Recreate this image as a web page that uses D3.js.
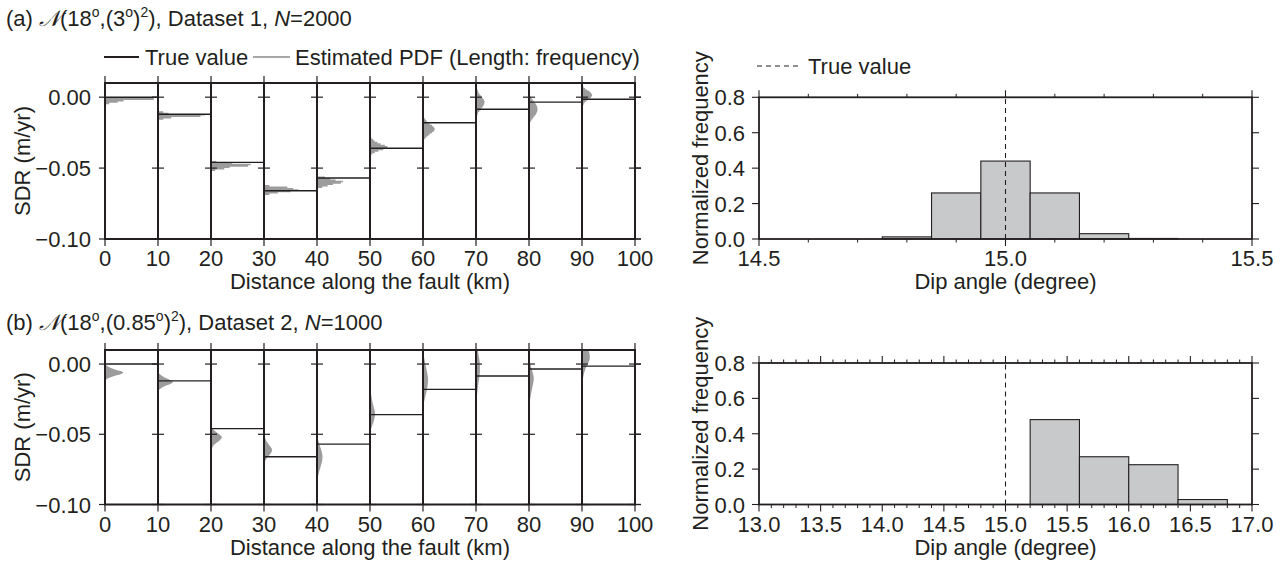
<!DOCTYPE html>
<html><head><meta charset="utf-8">
<script src="https://cdn.jsdelivr.net/npm/d3@7"></script>
<style>
body{margin:0;background:#fff}
text{font-family:"Liberation Sans",Arial,Helvetica,sans-serif;fill:#231f20}
</style>
</head><body>
<svg id="c" width="1285" height="568"></svg>
<script>
// ---------------- data ----------------
const segStarts = [0,10,20,30,40,50,60,70,80,90];
const segWidth = 10;
const trueSDR = [0, -0.012, -0.046, -0.066, -0.057, -0.036, -0.018, -0.0085, -0.0035, -0.0015];
const distTicks = [0,10,20,30,40,50,60,70,80,90,100];
const sdrTicks = [0, -0.05, -0.10];
const sdrBinA = 0.001;
// panel (a): estimated PDF bins per segment [bin centre SDR, length in km]
const pdfA = [
  [[-0.0005,9.2],[-0.0015,9.2],[-0.0025,3.5],[-0.0035,2.4],[-0.0045,0.8]],
  [[-0.0105,1.0],[-0.0115,2.0],[-0.0125,8.8],[-0.0135,8.0],[-0.0145,2.5],[-0.0155,1.0]],
  [[-0.0455,1.0],[-0.0465,4.0],[-0.0475,7.5],[-0.0485,7.0],[-0.0495,3.5],[-0.0505,2.5],[-0.0515,0.8]],
  [[-0.0625,1.0],[-0.0635,4.4],[-0.0645,5.5],[-0.0655,6.5],[-0.0665,5.0],[-0.0675,2.6],[-0.0685,1.0]],
  [[-0.0565,1.5],[-0.0575,2.5],[-0.0585,3.5],[-0.0595,4.9],[-0.0605,4.5],[-0.0615,3.0],[-0.0625,2.0],[-0.0635,1.0]],
  [[-0.029,0.3],[-0.030,0.6],[-0.031,0.9],[-0.032,1.4],[-0.033,2.0],[-0.034,2.8],[-0.035,3.3],[-0.036,3.2],[-0.037,2.5],[-0.038,1.6],[-0.039,0.9],[-0.040,0.4],[-0.041,0.2]],
  [[-0.013,0.1],[-0.014,0.2],[-0.015,0.3],[-0.016,0.5],[-0.017,0.7],[-0.018,1.0],[-0.019,1.3],[-0.020,1.7],[-0.021,2.0],[-0.022,2.2],[-0.023,2.2],[-0.024,2.0],[-0.025,1.7],[-0.026,1.3],[-0.027,1.0],[-0.028,0.7],[-0.029,0.4],[-0.030,0.2],[-0.031,0.1]],
  [[0.007,0.1],[0.006,0.2],[0.005,0.3],[0.004,0.4],[0.003,0.5],[0.002,0.7],[0.001,0.9],[0.000,1.1],[-0.001,1.3],[-0.002,1.5],[-0.003,1.6],[-0.004,1.6],[-0.005,1.5],[-0.006,1.4],[-0.007,1.2],[-0.008,1.0],[-0.009,0.8],[-0.010,0.6],[-0.011,0.4],[-0.012,0.3],[-0.013,0.2],[-0.014,0.15],[-0.015,0.1],[-0.016,0.05]],
  [[0.002,0.1],[0.001,0.2],[0.000,0.35],[-0.001,0.5],[-0.002,0.7],[-0.003,0.9],[-0.004,1.1],[-0.005,1.3],[-0.006,1.45],[-0.007,1.55],[-0.008,1.6],[-0.009,1.6],[-0.010,1.55],[-0.011,1.45],[-0.012,1.3],[-0.013,1.1],[-0.014,0.9],[-0.015,0.7],[-0.016,0.5],[-0.017,0.35],[-0.018,0.2],[-0.019,0.1],[-0.020,0.05]],
  [[0.008,0.1],[0.007,0.3],[0.006,0.6],[0.005,1.0],[0.004,1.4],[0.003,1.7],[0.002,1.9],[0.001,1.9],[0.000,1.7],[-0.001,1.4],[-0.002,1.0],[-0.003,0.7],[-0.004,0.45],[-0.005,0.3],[-0.006,0.2],[-0.007,0.1]]
];
// panel (b): estimated PDF outline per segment [SDR, length in km]
const pdfB = [
  [[0.000,0],[-0.001,0.3],[-0.002,0.6],[-0.003,1.2],[-0.004,2.0],[-0.005,3.0],[-0.006,3.6],[-0.007,3.2],[-0.008,2.2],[-0.009,1.3],[-0.010,0.6],[-0.011,0.2],[-0.012,0]],
  [[-0.006,0],[-0.007,0.3],[-0.008,0.6],[-0.009,1.0],[-0.010,1.5],[-0.011,2.1],[-0.012,2.7],[-0.013,2.9],[-0.014,2.5],[-0.015,1.8],[-0.016,1.1],[-0.017,0.6],[-0.018,0.3],[-0.019,0.1],[-0.020,0]],
  [[-0.044,0],[-0.046,0.3],[-0.048,0.8],[-0.050,1.6],[-0.052,2.2],[-0.054,1.8],[-0.056,1.0],[-0.058,0.4],[-0.060,0.15],[-0.062,0]],
  [[-0.050,0],[-0.052,0.15],[-0.054,0.35],[-0.056,0.65],[-0.058,1.05],[-0.060,1.5],[-0.062,1.55],[-0.064,1.2],[-0.066,0.7],[-0.068,0.35],[-0.070,0.1],[-0.072,0]],
  [[-0.051,0],[-0.054,0.2],[-0.058,0.5],[-0.062,0.9],[-0.066,1.1],[-0.070,0.95],[-0.074,0.6],[-0.078,0.3],[-0.082,0.1],[-0.085,0]],
  [[-0.016,0],[-0.020,0.15],[-0.024,0.3],[-0.028,0.5],[-0.032,0.8],[-0.035,1.0],[-0.038,0.9],[-0.041,0.7],[-0.044,0.4],[-0.047,0.15],[-0.049,0]],
  [[0.009,0],[0.005,0.2],[0.001,0.4],[-0.003,0.6],[-0.007,0.85],[-0.011,1.0],[-0.015,0.9],[-0.019,0.7],[-0.023,0.45],[-0.027,0.2],[-0.031,0]],
  [[0.011,0.3],[0.006,0.5],[0.002,0.7],[-0.002,0.75],[-0.006,0.75],[-0.010,0.6],[-0.014,0.45],[-0.018,0.3],[-0.022,0.2],[-0.026,0.1],[-0.030,0]],
  [[0.005,0],[0.001,0.2],[-0.003,0.45],[-0.007,0.8],[-0.010,0.95],[-0.013,0.85],[-0.017,0.6],[-0.021,0.4],[-0.025,0.2],[-0.029,0.08],[-0.031,0]],
  [[0.011,1.1],[0.008,1.4],[0.005,1.5],[0.003,1.45],[0.001,1.2],[-0.002,0.8],[-0.005,0.5],[-0.008,0.3],[-0.011,0.15],[-0.014,0]]
];
// dip-angle histograms
const dipEdgesA = [14.75,14.85,14.95,15.05,15.15,15.25,15.35];
const dipFreqA  = [0.012,0.26,0.44,0.26,0.03,0.003];
const dipEdgesB = [15.2,15.6,16.0,16.4,16.8];
const dipFreqB  = [0.48,0.27,0.225,0.028];
const dipTrue = 15.0;
const freqTicks = [0,0.2,0.4,0.6,0.8];
const dipTicksA = [14.5,15.0,15.5];
const dipMinorA = [14.6,14.7,14.8,14.9,15.1,15.2,15.3,15.4];
const dipTicksB = [13.0,13.5,14.0,14.5,15.0,15.5,16.0,16.5,17.0];
const dipMinorB = [13.1,13.2,13.3,13.4,13.6,13.7,13.8,13.9,14.1,14.2,14.3,14.4,14.6,14.7,14.8,14.9,15.1,15.2,15.3,15.4,15.6,15.7,15.8,15.9,16.1,16.2,16.3,16.4,16.6,16.7,16.8,16.9];

// ---------------- drawing ----------------
const ink = "#231f20";
const pdfGray = "#9c9c9c";
const barGray = "#c8c9ca";
const FS = 22;
const svg = d3.select("#c");

function rich(x, y, parts){
  const t = svg.append("text").attr("x",x).attr("y",y).attr("font-size",FS);
  let up = false;
  parts.forEach(p=>{
    const o = typeof p==="string" ? {t:p} : p;
    const s = t.append("tspan").text(o.t);
    if(o.sup){ s.attr("font-size",14); if(!up){ s.attr("dy",-9); up=true; } }
    else if(up){ s.attr("dy",9); up=false; }
    if(o.it) s.attr("font-style","italic");
    if(o.cal) s.attr("font-family","'DejaVu Sans','DejaVu Serif',serif").attr("font-style","italic");
  });
  return t;
}

const xD = d3.scaleLinear().domain([0,100]).range([105,635]);

function sdrPanel(top, bottom, pdf, stepped, id){
  const y = d3.scaleLinear().domain([-0.10,0.01]).range([bottom, top]);
  const g = svg.append("g");
  g.append("clipPath").attr("id",id).append("rect")
    .attr("x",xD(0)).attr("y",top).attr("width",xD(100)-xD(0)).attr("height",bottom-top);
  const pg = g.append("g").attr("clip-path",`url(#${id})`);
  pdf.forEach((bins,i)=>{
    const x0 = segStarts[i];
    let pts, curve;
    if(stepped){
      pts = [[0, bins[0][0]+sdrBinA/2]];
      bins.forEach(b=>pts.push([b[1], b[0]+sdrBinA/2]));
      pts.push([0, bins[bins.length-1][0]-sdrBinA/2]);
      curve = d3.curveStepBefore;
    } else {
      pts = bins.map(b=>[b[1], b[0]]);
      curve = d3.curveBasis;
    }
    const area = d3.area().curve(curve)
      .y(d=>y(d[1])).x0(xD(x0)).x1(d=>xD(x0+d[0]));
    pg.append("path").attr("d",area(pts)).attr("fill",pdfGray);
  });
  // true values
  g.selectAll(null).data(trueSDR).enter().append("line")
    .attr("x1",(d,i)=>xD(segStarts[i])).attr("x2",(d,i)=>xD(segStarts[i]+segWidth))
    .attr("y1",d=>y(d)).attr("y2",d=>y(d)).attr("stroke",ink).attr("stroke-width",1.4);
  // y ticks at every divider
  distTicks.forEach(t=>{
    sdrTicks.forEach(v=>{
      const a = t===0 ? -6 : -6, b = t===100 ? 6 : 6;
      g.append("line").attr("x1",xD(t)+(t===0?-6:-6)).attr("x2",xD(t)+(t===0?0:6))
        .attr("y1",y(v)).attr("y2",y(v)).attr("stroke",ink).attr("stroke-width",1.2);
    });
    if(t===100){
      sdrTicks.forEach(v=>g.append("line").attr("x1",xD(t)).attr("x2",xD(t)+6)
        .attr("y1",y(v)).attr("y2",y(v)).attr("stroke",ink).attr("stroke-width",1.2));
    }
    g.append("line").attr("x1",xD(t)).attr("x2",xD(t)).attr("y1",top-7).attr("y2",top)
      .attr("stroke",ink).attr("stroke-width",1.2);
    g.append("line").attr("x1",xD(t)).attr("x2",xD(t)).attr("y1",bottom).attr("y2",bottom+7)
      .attr("stroke",ink).attr("stroke-width",1.2);
  });
  // dividers
  g.selectAll(null).data(distTicks).enter().append("line")
    .attr("x1",d=>xD(d)).attr("x2",d=>xD(d)).attr("y1",top).attr("y2",bottom)
    .attr("stroke",ink).attr("stroke-width",2);
  [top,bottom].forEach(yy=>g.append("line").attr("x1",xD(0)-1).attr("x2",xD(100)+1)
    .attr("y1",yy).attr("y2",yy).attr("stroke",ink).attr("stroke-width",2));
  // labels
  g.selectAll(null).data(distTicks).enter().append("text")
    .attr("x",d=>xD(d)).attr("y",bottom+27).attr("text-anchor","middle").attr("font-size",FS)
    .text(d=>d);
  g.selectAll(null).data(sdrTicks).enter().append("text")
    .attr("x",91).attr("y",d=>y(d)+8).attr("text-anchor","end").attr("font-size",FS)
    .text(d=>d3.format(".2f")(d).replace("-","\u2212"));
  g.append("text").attr("x",xD(50)).attr("y",bottom+50).attr("text-anchor","middle")
    .attr("font-size",FS).text("Distance along the fault (km)");
  g.append("text").attr("transform",`translate(30,${(top+bottom)/2}) rotate(-90)`)
    .attr("text-anchor","middle").attr("font-size",FS).text("SDR (m/yr)");
}

function histPanel(top, bottom, domain, edges, freq, majors, minors, id){
  const x = d3.scaleLinear().domain(domain).range([759,1252]);
  const y = d3.scaleLinear().domain([0,0.8]).range([bottom, top]);
  const g = svg.append("g");
  g.selectAll(null).data(freq).enter().append("rect")
    .attr("x",(d,i)=>x(edges[i])).attr("width",(d,i)=>x(edges[i+1])-x(edges[i]))
    .attr("y",d=>y(d)).attr("height",d=>y(0)-y(d))
    .attr("fill",barGray).attr("stroke",ink).attr("stroke-width",1.1);
  g.append("line").attr("x1",x(dipTrue)).attr("x2",x(dipTrue)).attr("y1",y(0)).attr("y2",y(0.8))
    .attr("stroke",ink).attr("stroke-width",1.1).attr("stroke-dasharray","5,4");
  g.append("rect").attr("x",x(domain[0])).attr("y",top).attr("width",x(domain[1])-x(domain[0]))
    .attr("height",bottom-top).attr("fill","none").attr("stroke",ink).attr("stroke-width",1.8);
  majors.forEach(t=>{
    g.append("line").attr("x1",x(t)).attr("x2",x(t)).attr("y1",top-7).attr("y2",top).attr("stroke",ink).attr("stroke-width",1.1);
    g.append("line").attr("x1",x(t)).attr("x2",x(t)).attr("y1",bottom).attr("y2",bottom+7).attr("stroke",ink).attr("stroke-width",1.1);
  });
  minors.forEach(t=>{
    g.append("line").attr("x1",x(t)).attr("x2",x(t)).attr("y1",top-3.5).attr("y2",top).attr("stroke",ink).attr("stroke-width",1);
    g.append("line").attr("x1",x(t)).attr("x2",x(t)).attr("y1",bottom).attr("y2",bottom+3.5).attr("stroke",ink).attr("stroke-width",1);
  });
  freqTicks.forEach(v=>{
    g.append("line").attr("x1",x(domain[0])-7).attr("x2",x(domain[0])).attr("y1",y(v)).attr("y2",y(v)).attr("stroke",ink).attr("stroke-width",1.1);
    g.append("line").attr("x1",x(domain[1])).attr("x2",x(domain[1])+7).attr("y1",y(v)).attr("y2",y(v)).attr("stroke",ink).attr("stroke-width",1.1);
  });
  g.selectAll(null).data(majors).enter().append("text")
    .attr("x",d=>x(d)).attr("y",bottom+27).attr("text-anchor","middle").attr("font-size",FS)
    .text(d=>d3.format(".1f")(d));
  g.selectAll(null).data(freqTicks).enter().append("text")
    .attr("x",745).attr("y",d=>y(d)+8).attr("text-anchor","end").attr("font-size",FS)
    .text(d=>d3.format(".1f")(d));
  g.append("text").attr("x",(x(domain[0])+x(domain[1]))/2).attr("y",bottom+50).attr("text-anchor","middle")
    .attr("font-size",FS).text("Dip angle (degree)");
  g.append("text").attr("transform",`translate(708,${(top+bottom)/2-10}) rotate(-90)`)
    .attr("text-anchor","middle").attr("font-size",FS).text("Normalized frequency");
}

// headers
rich(6, 26, ["(a) ", {t:"\u{1D4A9}",cal:true}, "(18", {t:"o",sup:true}, ",(3", {t:"o",sup:true}, ")", {t:"2",sup:true}, "), Dataset 1, ", {t:"N",it:true}, "=2000"]);
rich(6, 330, ["(b) ", {t:"\u{1D4A9}",cal:true}, "(18", {t:"o",sup:true}, ",(0.85", {t:"o",sup:true}, ")", {t:"2",sup:true}, "), Dataset 2, ", {t:"N",it:true}, "=1000"]);

// legend (a)
svg.append("line").attr("x1",104).attr("x2",139).attr("y1",57).attr("y2",57).attr("stroke",ink).attr("stroke-width",2.2);
svg.append("text").attr("x",145).attr("y",65).attr("font-size",FS).text("True value");
svg.append("line").attr("x1",253).attr("x2",290).attr("y1",57).attr("y2",57).attr("stroke","#a8a8a8").attr("stroke-width",2.2);
svg.append("text").attr("x",295).attr("y",65).attr("font-size",FS).text("Estimated PDF (Length: frequency)");
// legend right
svg.append("line").attr("x1",757).attr("x2",800).attr("y1",66).attr("y2",66).attr("stroke",ink).attr("stroke-width",1.1).attr("stroke-dasharray","5,4");
svg.append("text").attr("x",808).attr("y",74).attr("font-size",FS).text("True value");

sdrPanel(83, 239, pdfA, true, "clipA");
sdrPanel(350, 504.5, pdfB, false, "clipB");
histPanel(97.3, 239, [14.5,15.5], dipEdgesA, dipFreqA, dipTicksA, dipMinorA, "hA");
histPanel(363, 504.5, [13,17], dipEdgesB, dipFreqB, dipTicksB, dipMinorB, "hB");
</script>
</body></html>
